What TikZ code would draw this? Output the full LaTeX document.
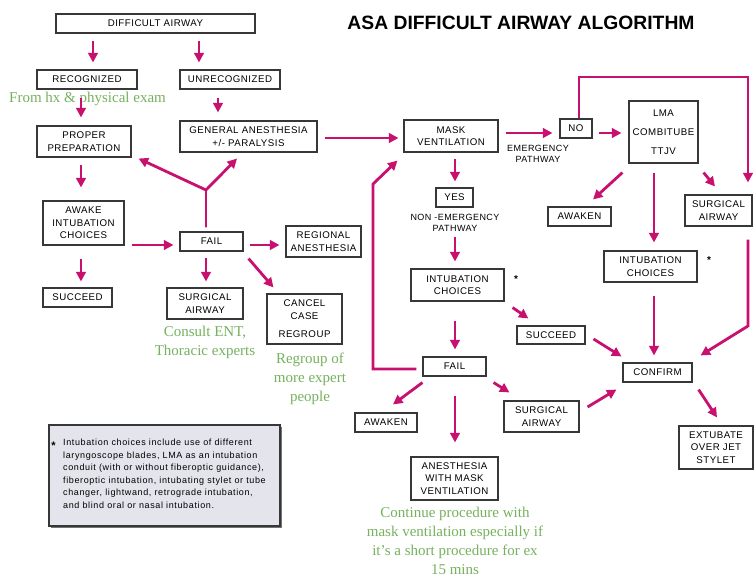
\documentclass[tikz,border=0pt]{standalone}
\usepackage{fontspec}
\setmainfont{Liberation Sans}
\newfontfamily\boxfam[LetterSpace=5]{Liberation Sans}
\newfontfamily\notefam[LetterSpace=7]{Liberation Sans}
\newfontfamily\greenfam{Liberation Serif}
\usetikzlibrary{arrows.meta,calc}
\definecolor{mag}{RGB}{200,16,110}
\definecolor{grn}{RGB}{118,178,94}
\definecolor{boxc}{RGB}{55,55,55}
\definecolor{notefill}{RGB}{228,228,236}
\begin{document}
\begin{tikzpicture}[x=1pt,y=-1pt,
 box/.style={draw=boxc,line width=1.1pt,fill=white,inner sep=0pt,align=center,font=\boxfam\fontsize{9.7}{12.5}\selectfont},
 arr/.style={draw=mag,line width=2.8pt,-{Triangle[length=9.5pt,width=9.5pt]},shorten <=7pt,shorten >=7pt},
 arrz/.style={arr,shorten <=0pt,shorten >=0pt},
 mline/.style={draw=mag,line width=2.8pt},
 grntxt/.style={text=grn,font=\greenfam\fontsize{15}{19}\selectfont,align=center,inner sep=0pt},
 smalltxt/.style={font=\boxfam\fontsize{9}{11}\selectfont,align=center,inner sep=0pt},
 startxt/.style={font=\bfseries\fontsize{10}{10}\selectfont,inner sep=0pt}
]
\fill[white] (0,0) rectangle (756,578);
\useasboundingbox (0,0) rectangle (756,578);

% title
\node[font=\bfseries\fontsize{19.3}{19.3}\selectfont,inner sep=0pt] (title) at (521,23) {ASA DIFFICULT AIRWAY ALGORITHM};

% green notes
\node[grntxt] (g1) at (87.5,99) {From hx \& physical exam};
\node[grntxt] (g2) at (205,342.5) {Consult ENT,\\Thoracic experts};
\node[grntxt] (g3) at (310,378.5) {Regroup of\\more expert\\people};
\node[grntxt,font=\greenfam\fontsize{15}{18.8}\selectfont] (g4) at (455,541) {Continue procedure with\\mask ventilation especially if\\it’s a short procedure for ex\\15 mins};

% boxes
\node[box,minimum width=199pt,minimum height=19pt] (da) at (155.5,23.5) {DIFFICULT\ AIRWAY};
\node[box,minimum width=100pt,minimum height=19pt] (rec) at (87,79.5) {RECOGNIZED};
\node[box,minimum width=100pt,minimum height=19pt] (unrec) at (230,79.5) {UNRECOGNIZED};
\node[box,minimum width=94pt,minimum height=31pt] (prep) at (84,141.5) {PROPER\\PREPARATION};
\node[box,minimum width=137pt,minimum height=31pt] (ga) at (248.5,136.5) {GENERAL ANESTHESIA\\+/- PARALYSIS};
\node[box,minimum width=81pt,minimum height=44pt] (awake) at (83.5,223) {AWAKE\\INTUBATION\\CHOICES};
\node[box,minimum width=63pt,minimum height=19pt] (fail1) at (211.5,241.5) {FAIL};
\node[box,minimum width=75pt,minimum height=31pt] (regional) at (323.5,241.5) {REGIONAL\\ANESTHESIA};
\node[box,minimum width=69pt,minimum height=19pt] (succ1) at (77.5,297.5) {SUCCEED};
\node[box,minimum width=76pt,minimum height=31pt] (surg1) at (205,303.5) {SURGICAL\\AIRWAY};
\node[box,minimum width=75pt,minimum height=50pt] (cancel) at (304.5,319) {CANCEL\\CASE\\[6pt]REGROUP};
\node[box,minimum width=94pt,minimum height=32pt] (mask) at (451,136) {MASK\\VENTILATION};
\node[box,minimum width=32pt,minimum height=19pt] (no) at (576,128.5) {NO};
\node[box,minimum width=69pt,minimum height=62pt,font=\boxfam\fontsize{9.7}{19}\selectfont] (lma) at (663.5,132) {LMA\\COMBITUBE\\TTJV};
\node[box,minimum width=37pt,minimum height=19pt] (yes) at (454.5,197.5) {YES};
\node[smalltxt] (nonem) at (455,222.5) {NON -EMERGENCY\\PATHWAY};
\node[smalltxt] (emerg) at (538,153.5) {EMERGENCY\\PATHWAY};
\node[box,minimum width=93pt,minimum height=32pt] (intub2) at (457.5,285) {INTUBATION\\CHOICES};
\node[box,minimum width=68pt,minimum height=18pt] (succ2) at (551,335) {SUCCEED};
\node[box,minimum width=63pt,minimum height=19pt] (fail2) at (454.5,366.5) {FAIL};
\node[box,minimum width=63pt,minimum height=19pt] (awaken1) at (579.5,216.5) {AWAKEN};
\node[box,minimum width=67pt,minimum height=31pt] (surg3) at (718.5,210.5) {SURGICAL\\AIRWAY};
\node[box,minimum width=93pt,minimum height=31pt] (intub3) at (650.5,266.5) {INTUBATION\\CHOICES};
\node[box,minimum width=69pt,minimum height=19pt] (confirm) at (657.5,372.5) {CONFIRM};
\node[box,minimum width=62pt,minimum height=19pt] (awaken2) at (386,422.5) {AWAKEN};
\node[box,minimum width=75pt,minimum height=31pt] (surg2) at (541.5,416.5) {SURGICAL\\AIRWAY};
\node[box,minimum width=87pt,minimum height=43pt] (anes) at (454.5,478.5) {ANESTHESIA\\WITH MASK\\VENTILATION};
\node[box,minimum width=74pt,minimum height=43pt] (extub) at (716,447.5) {EXTUBATE\\OVER JET\\STYLET};

% stars
\node[startxt] (star2) at (516,279) {*};
\node[startxt] (star3) at (709,260) {*};

% footnote
\fill[boxc!70] (50.5,426.5) rectangle (281.5,527.5);
\node[draw=boxc,line width=1.1pt,fill=notefill,minimum width=231pt,minimum height=101pt,inner sep=0pt] (note) at (164.5,475.5) {};
\node[startxt,font=\bfseries\fontsize{11}{11}\selectfont] (notestar) at (53.5,446) {*};
\node[anchor=north west,inner sep=0pt,align=left,font=\notefam\fontsize{9}{12.5}\selectfont] (notetxt) at (63,439) {Intubation choices include use of different\\laryngoscope blades, LMA as an intubation\\conduit (with or without fiberoptic guidance),\\fiberoptic intubation, intubating stylet or tube\\changer, lightwand, retrograde intubation,\\and blind oral or nasal intubation.};

% connectors
\draw[arr] ($(rec.north |- da.south)+(6,0)$) -- ($(rec.north)+(6,0)$);
\draw[arr] ($(unrec.north |- da.south)+(-31,0)$) -- ($(unrec.north)+(-31,0)$);
\draw[arr,shorten <=8pt,shorten >=8pt] ($(rec.south)+(-6,0)$) -- ($(rec.south |- prep.north)+(-6,0)$);
\draw[arr,shorten <=8pt,shorten >=8pt] ($(unrec.south)+(-12,0)$) -- ($(unrec.south |- ga.north)+(-12,0)$);
\draw[arr,shorten >=13pt] ($(prep.south)+(-3,0)$) -- ($(prep.south |- awake.north)+(-3,0)$);
\draw[arr,shorten >=5pt] ($(ga.east)+(0,1.5)$) -- ($(ga.east -| mask.west)+(0,1.5)$);
\draw[arr,shorten >=6pt] ($(fail1.west -| awake.east)+(0,3.5)$) -- ($(fail1.west)+(0,3.5)$);
\coordinate (fork) at (206,190);
\draw[mline,line cap=round,shorten <=5pt] ($(fail1.north)+(-5.5,0)$) -- (fork);
\draw[arrz] (fork) -- ($(prep.south east)+(7,1)$);
\draw[arrz] (fork) -- ($(ga.south)+(-11.5,6)$);
\draw[arr,shorten <=6pt,shorten >=6pt] ($(fail1.east)+(0,3.5)$) -- ($(fail1.east -| regional.west)+(0,3.5)$);
\draw[arr,shorten <=13pt,shorten >=6pt] ($(awake.south)+(-2.5,0)$) -- ($(awake.south |- succ1.north)+(-2.5,0)$);
\draw[arr,shorten <=6pt,shorten >=6pt] ($(fail1.south)+(-5.5,0)$) -- ($(fail1.south |- surg1.north)+(-5.5,0)$);
\draw[arrz] ($(fail1.south east)+(5,7)$) -- ($(cancel.north west)+(7,-6)$);
\draw[arr] ($(mask.east)+(0,-3)$) -- ($(mask.east -| no.west)+(0,-3)$);
\draw[arr,shorten <=6pt] ($(no.east)+(0,4.5)$) -- ($(no.east -| lma.west)+(0,4.5)$);
\coordinate (looptop) at (748,77);
\draw[arr,shorten <=0pt,shorten >=12pt] ($(no.north)+(3,0)$) |- (looptop) -- ($(surg3.north)+(29.5,0)$);
\draw[arrz] ($(lma.south west)+(-6,9)$) -- ($(awaken1.north)+(13.5,-7)$);
\draw[arr,shorten <=9pt,shorten >=8pt] ($(lma.south)+(-9.5,0)$) -- ($(lma.south |- intub3.north)+(-9.5,0)$);
\draw[arrz] ($(lma.south east)+(5,9)$) -- ($(surg3.north)+(-3.5,-8)$);
\draw[arr,shorten <=6pt,shorten >=6pt] ($(mask.south)+(4,0)$) -- ($(mask.south |- yes.north)+(4,0)$);
\draw[arr,shorten <=6pt,shorten >=7pt] (nonem.south) -- (nonem.south |- intub2.north);
\draw[arrz] ($(intub2.south east)+(8,6)$) -- ($(succ2.north west)+(12,-7)$);
\draw[arr,shorten <=19pt,shorten >=7pt] ($(intub2.south)+(-2.5,0)$) -- ($(intub2.south |- fail2.north)+(-2.5,0)$);
\coordinate (loopa) at (373,369);
\coordinate (loopb) at (373,184);
\draw[arr,shorten <=6pt,shorten >=0pt] ($(fail2.west)+(0,2.5)$) -- (loopa) -- (loopb) -- ($(mask.south west)+(-6,8)$);
\draw[arr,shorten <=13pt,shorten >=7pt] ($(intub3.south)+(3.5,0)$) -- ($(intub3.south |- confirm.north)+(3.5,0)$);
\coordinate (bend) at (748,326);
\draw[arr,shorten <=13pt,shorten >=0pt] ($(surg3.south)+(29.5,0)$) -- (bend) -- ($(confirm.north east)+(8,-7)$);
\draw[arrz] ($(succ2.east)+(8,4)$) -- ($(confirm.north west)+(-1,-6)$);
\draw[arrz] ($(fail2.south west)+(0,6)$) -- ($(awaken2.north)+(7,-8)$);
\draw[arr,shorten <=19pt,shorten >=14pt] ($(fail2.south)+(0.5,0)$) -- ($(fail2.south |- anes.north)+(0.5,0)$);
\draw[arrz] ($(fail2.south east)+(7,6)$) -- ($(surg2.north west)+(6,-8)$);
\draw[arrz] ($(surg2.east)+(8,-9.5)$) -- ($(confirm.south west)+(-6,7)$);
\draw[arrz] ($(confirm.south east)+(6,7)$) -- ($(extub.north)+(1,-8)$);
\end{tikzpicture}
\end{document}
